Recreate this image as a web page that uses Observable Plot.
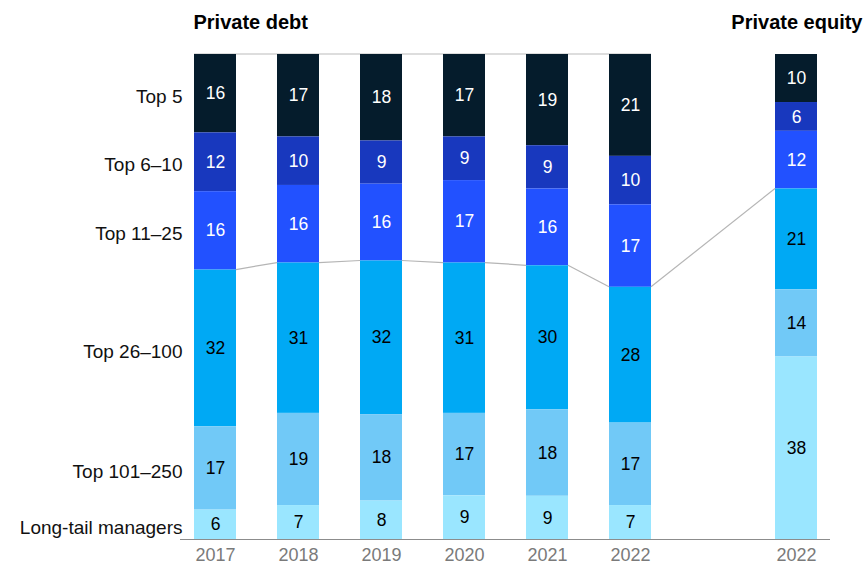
<!DOCTYPE html>
<html><head><meta charset="utf-8">
<script src="https://cdn.jsdelivr.net/npm/d3@7"></script>
<script src="https://cdn.jsdelivr.net/npm/@observablehq/plot@0.6"></script>
<style>html,body{margin:0;padding:0;background:#fff}</style>
</head><body><div id="chart"></div>
<script>
// Categories, top to bottom
const categories = ["Top 5", "Top 6–10", "Top 11–25", "Top 26–100", "Top 101–250", "Long-tail managers"];
const colors = ["#051c2c", "#1838be", "#2251ff", "#00a9f4", "#71c9f7", "#9ae6ff"];
const darkCategories = ["Top 5", "Top 6–10", "Top 11–25"];

// x slots (one empty gap slot)
const periods = ["2017", "2018", "2019", "2020", "2021", "2022", "gap", "PE 2022"];
const tickLabels = ["2017", "2018", "2019", "2020", "2021", "2022", "", "2022"];
const barPeriods = ["2017", "2018", "2019", "2020", "2021", "2022", "PE 2022"];

// Series values, aligned with barPeriods
const top5      = [16, 17, 18, 17, 19, 21, 10];
const top6to10  = [12, 10,  9,  9,  9, 10,  6];
const top11to25 = [16, 16, 16, 17, 16, 17, 12];
const top26to100= [32, 31, 32, 31, 30, 28, 21];
const top101to250=[17, 19, 18, 17, 18, 17, 14];
const longTail  = [ 6,  7,  8,  9,  9,  7, 38];

const titles = ["Private debt", "Private equity"];

const series = [top5, top6to10, top11to25, top26to100, top101to250, longTail];
const rows = [];
barPeriods.forEach((p, i) => {
  categories.forEach((c, j) => rows.push({period: p, category: c, value: series[j][i]}));
});
const order = [...categories].reverse();

// share at the top of "Top 26–100" for each bar
const connectorShare = barPeriods.map((p, i) => {
  const total = series.reduce((s, arr) => s + arr[i], 0);
  return (longTail[i] + top101to250[i] + top26to100[i]) / total;
});

function connectors(index, scales) {
  const {x, y} = scales;
  const bw = x.bandwidth();
  const g = d3.create("svg:g").attr("stroke", "#b5b5b5").attr("stroke-width", 1.2).attr("fill", "none");
  for (let i = 0; i < barPeriods.length - 1; i++) {
    g.append("line")
      .attr("x1", x(barPeriods[i]) + bw).attr("y1", y(connectorShare[i]))
      .attr("x2", x(barPeriods[i + 1])).attr("y2", y(connectorShare[i + 1]));
  }
  return g.node();
}

const font = "'Liberation Sans', Arial, Helvetica, sans-serif";
const stackOpts = {x: "period", y: "value", z: "category", order, offset: "normalize"};

const chart = Plot.plot({
  width: 865,
  height: 567,
  marginTop: 54,
  marginBottom: 28,
  marginLeft: 193,
  marginRight: 48,
  style: {fontFamily: font, fontSize: "17px", background: "#fff"},
  x: {domain: periods, paddingInner: 0.495, paddingOuter: 0, axis: null},
  y: {axis: null, domain: [0, 1]},
  color: {domain: categories, range: colors},
  marks: [
    Plot.ruleY([1], {x1: () => "2017", x2: () => "2022", stroke: "#d2d2d2", strokeWidth: 1.5, dy: -0.5}),
    connectors,
    Plot.barY(rows, {x: "period", y: "value", fill: "category", order, offset: "normalize"}),
    Plot.text(rows, Plot.stackY({...stackOpts, text: d => darkCategories.includes(d.category) ? String(d.value) : null, fill: "white", fontSize: 17.5})),
    Plot.text(rows, Plot.stackY({...stackOpts, text: d => darkCategories.includes(d.category) ? null : String(d.value), fill: "black", fontSize: 17.5})),
    Plot.text(rows, Plot.stackY({...stackOpts, text: d => d.period === "2017" ? d.category : null, textAnchor: "end", dx: -33, dy: 3, fill: "#111", fontSize: 19})),
    Plot.ruleY([0], {stroke: "#8c8c8c", strokeWidth: 1.2, insetLeft: -13, insetRight: -13}),
    Plot.axisX({tickSize: 0, tickPadding: 9, tickFormat: d => tickLabels[periods.indexOf(d)], fill: "#7a7a7a", fontSize: 18, label: null}),
    Plot.text([titles[0]], {frameAnchor: "top-left", lineAnchor: "middle", textAnchor: "start", dy: -32, fontWeight: "bold", fontSize: 20, fill: "#000"}),
    Plot.text([titles[1]], {frameAnchor: "top-right", lineAnchor: "middle", textAnchor: "end", dx: 45, dy: -32, fontWeight: "bold", fontSize: 20, fill: "#000"})
  ]
});
document.getElementById("chart").appendChild(chart);
</script>
</body></html>
